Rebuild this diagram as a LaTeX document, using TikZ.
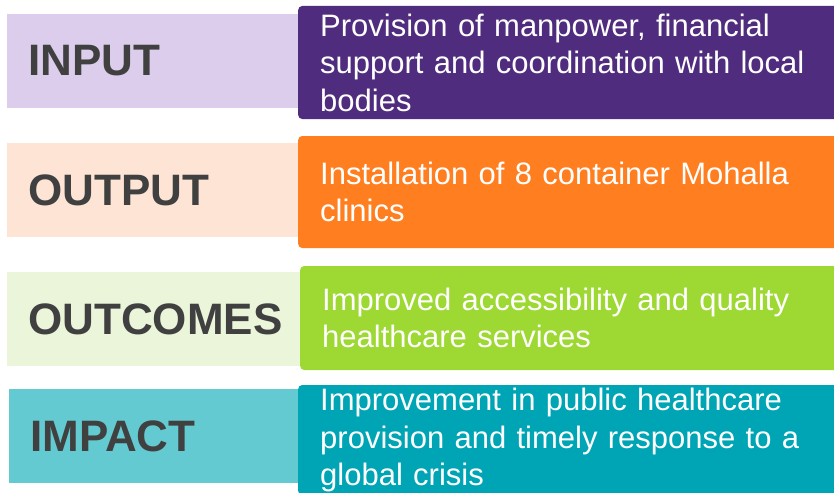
\documentclass[tikz,border=0pt]{standalone}
\usepackage{fontspec}
\setmainfont{Liberation Sans}
\usetikzlibrary{positioning}

\definecolor{inputdark}{HTML}{502C7E}
\definecolor{inputlight}{HTML}{DBCDEB}
\definecolor{outputdark}{HTML}{FF7F20}
\definecolor{outputlight}{HTML}{FDE4D4}
\definecolor{outcomedark}{HTML}{9DD833}
\definecolor{outcomelight}{HTML}{EAF5DA}
\definecolor{impactdark}{HTML}{00A5B5}
\definecolor{impactlight}{HTML}{63CAD1}
\definecolor{labelgray}{HTML}{404040}

\begin{document}
\begin{tikzpicture}[
  x=1pt, y=-1pt,
  lbl/.style  = {rectangle, anchor=west, inner xsep=21pt, inner ysep=0pt, text width=258pt, minimum height=94pt,
                 align=left, text=labelgray, font=\fontsize{44}{48}\selectfont\bfseries},
  desc/.style = {rectangle, anchor=west, rounded corners=4pt, inner xsep=22pt, inner ysep=0pt, text width=502pt,
                 align=left, text=white, font=\fontsize{31}{37.5}\selectfont},
  ]
  \clip (0,0) rectangle (834,492);

  % Row labels
  \node (input)   at (7,61)  [lbl, fill=inputlight]   {INPUT};
  \node (output)  at (7,190) [lbl, fill=outputlight]  {OUTPUT};
  \node (outcome) at (7,319) [lbl, fill=outcomelight] {OUTCOMES};
  \node (impact)  at (9,436) [lbl, fill=impactlight, text width=256pt] {IMPACT};

  % Descriptions
  \node (inputtxt)   at (298,62.5) [desc, fill=inputdark, minimum height=113pt]
    {Provision of manpower, financial\\support and coordination with local\\bodies};
  \node (outputtxt)  at (298,192)  [desc, fill=outputdark, minimum height=112pt]
    {Installation of 8 container Mohalla\\clinics};
  \node (outcometxt) at (300,318)  [desc, fill=outcomedark, minimum height=104pt]
    {Improved accessibility and quality\\healthcare services};
  \node (impacttxt)  at (298,440) [desc, fill=impactdark, minimum height=110pt]
    {Improvement in public healthcare\\provision and timely response to a\\global crisis};
\end{tikzpicture}
\end{document}
